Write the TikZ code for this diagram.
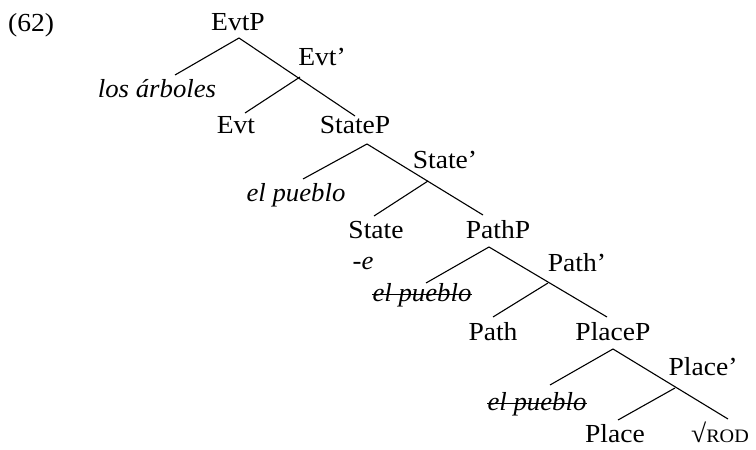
\documentclass[tikz,border=0pt]{standalone}
\usepackage{fontspec}
\setmainfont{Liberation Serif}[UprightFeatures={FakeStretch=1.06},ItalicFeatures={FakeStretch=1.03}]
\begin{document}
\begin{tikzpicture}[x=1pt,y=-1pt,
  lbl/.style={anchor=base,inner sep=0pt,font=\fontsize{26}{30}\selectfont},
  branch/.style={line width=1.1pt},
  strike/.style={line width=1.5pt}]
\useasboundingbox (0,0) rectangle (756,450);
% labels
\node[lbl,anchor=base west] (ex) at (8,31) {(62)};
\node[lbl] (EvtP) at (238,30) {EvtP};
\node[lbl] (Evtbar) at (322,65) {Evt’};
\node[lbl] (arb) at (157,97) {\itshape los árboles};
\node[lbl] (Evt) at (236,133) {Evt};
\node[lbl] (StateP) at (355,133) {StateP};
\node[lbl] (pue1) at (296,201) {\itshape el pueblo};
\node[lbl] (Statebar) at (445,168) {State’};
\node[lbl] (State) at (376,238) {State};
\node[lbl] (PathP) at (498,238) {PathP};
\node[lbl] (e) at (363,269) {\itshape -e};
\node[lbl] (Pathbar) at (577,271) {Path’};
\node[lbl] (pue2) at (422,301) {\itshape el pueblo};
\node[lbl] (Path) at (493,340) {Path};
\node[lbl] (PlaceP) at (613,340) {PlaceP};
\node[lbl] (Placebar) at (703,375) {Place’};
\node[lbl] (pue3) at (537,410) {\itshape el pueblo};
\node[lbl] (Place) at (615,442) {Place};
\node[lbl] (root) at (720,442) {√{\fontsize{19}{19}\selectfont ROD}};
% strike-throughs
\draw[strike] ([yshift=6.5pt]pue2.base west) -- ([yshift=6.5pt]pue2.base east);
\draw[strike] ([yshift=6.5pt]pue3.base west) -- ([yshift=6.5pt]pue3.base east);
% branch points and ends
\coordinate (aEvtP) at (239,38);
\coordinate (eArb) at (175,75);
\coordinate (eStateP) at (355,116);
\coordinate (bEvt) at (300,77);
\coordinate (eEvt) at (245,113);
\coordinate (aStateP) at (367,144);
\coordinate (ePue1) at (303,179);
\coordinate (ePathP) at (483,215);
\coordinate (bState) at (428,181);
\coordinate (eState) at (374,216);
\coordinate (aPathP) at (489,247);
\coordinate (ePue2) at (426,283);
\coordinate (ePlaceP) at (607,317);
\coordinate (bPath) at (548,283);
\coordinate (ePath) at (493,317);
\coordinate (aPlaceP) at (613,349);
\coordinate (ePue3) at (550,385);
\coordinate (eRoot) at (728,419);
\coordinate (bPlace) at (675,388);
\coordinate (ePlace) at (618,420);
% branches
\draw[branch] (eArb) -- (aEvtP) -- (eStateP);
\draw[branch] (bEvt) -- (eEvt);
\draw[branch] (ePue1) -- (aStateP) -- (ePathP);
\draw[branch] (bState) -- (eState);
\draw[branch] (ePue2) -- (aPathP) -- (ePlaceP);
\draw[branch] (bPath) -- (ePath);
\draw[branch] (ePue3) -- (aPlaceP) -- (eRoot);
\draw[branch] (bPlace) -- (ePlace);
\end{tikzpicture}
\end{document}
